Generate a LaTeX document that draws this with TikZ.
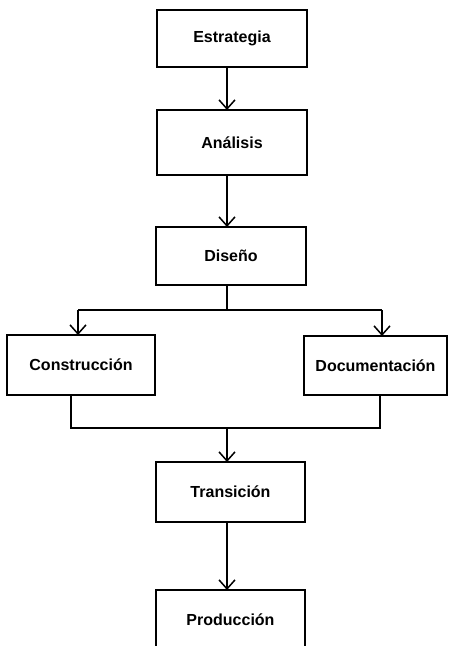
\documentclass[tikz,border=0pt]{standalone}
\usepackage{fontspec}
\setmainfont{Liberation Sans}
\usetikzlibrary{arrows.meta}
\tikzset{
  stagebox/.style={draw, line width=1.4pt, line join=miter, inner sep=0pt, outer sep=0pt,
    font=\fontsize{16}{19}\selectfont\bfseries},
  link/.style={line width=1.4pt, line join=miter},
  arr/.style={link, -{Straight Barb[length=9pt,width=16pt,line width=1.5pt]}}
}
\begin{document}
\begin{tikzpicture}[x=1pt,y=-1pt]
  \useasboundingbox[fill=white] (0,0) rectangle (449,646);
  \clip (0,0) rectangle (449,646);

  % stages
  \node[stagebox, minimum width=150pt, minimum height=57pt] (est) at (232,38.5) {Estrategia};
  \node[stagebox, minimum width=150pt, minimum height=65pt] (ana) at (232,142.5) {Análisis};
  \node[stagebox, minimum width=150pt, minimum height=58pt] (dis) at (231,256) {Diseño};
  \node[stagebox, minimum width=148pt, minimum height=60pt] (con) at (81,365) {Construcción};
  \node[stagebox, minimum width=143pt, minimum height=59pt] (doc) at (375.5,365.5) {Documentación};
  \node[stagebox, minimum width=149pt, minimum height=60pt] (tra) at (230.5,492) {Transición};
  \node[stagebox, minimum width=149pt, minimum height=60pt] (pro) at (230.5,620) {Producción};

  % routing points
  \coordinate (trunk) at (227,0);
  \coordinate (split) at (227,310);
  \coordinate (brL) at (78,310);
  \coordinate (brR) at (382,310);
  \coordinate (mL) at (71,428);
  \coordinate (mR) at (380,428);
  \coordinate (join) at (227,428);

  % connectors
  \draw[arr] (est.south -| trunk) -- (ana.north -| trunk);
  \draw[arr] (ana.south -| trunk) -- (dis.north -| trunk);
  \draw[link] (dis.south -| trunk) -- (split);
  \draw[link] (brL) -- (brR);
  \draw[arr] (brL) -- (con.north -| brL);
  \draw[arr] (brR) -- (doc.north -| brR);
  \draw[link] (con.south -| mL) -- (mL) -- (mR) -- (doc.south -| mR);
  \draw[arr] (join) -- (tra.north -| trunk);
  \draw[arr] (tra.south -| trunk) -- (pro.north -| trunk);
\end{tikzpicture}
\end{document}
